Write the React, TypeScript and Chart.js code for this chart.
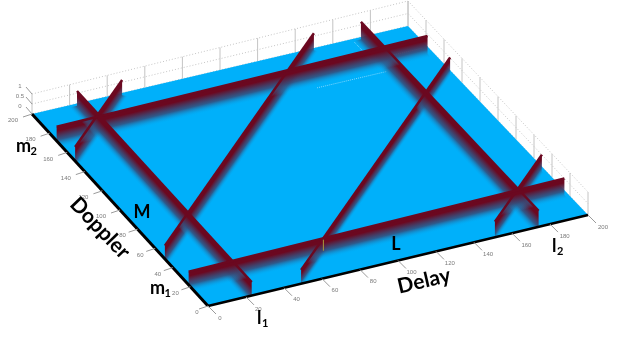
import React, { useEffect, useRef } from "react";
import { Chart, registerables } from "chart.js";

Chart.register(...registerables);

// Axis values
const delayTicks = [0, 20, 40, 60, 80, 100, 120, 140, 160, 180, 200];
const dopplerTicks = [0, 20, 40, 60, 80, 100, 120, 140, 160, 180, 200];
const heightTicks = [0, 0.5, 1];

// Ridges as [delay, doppler] end points
const ridgeHeight = 0.72;
const dopplerRidgeA = [[0, 172], [197, 172]];
const dopplerRidgeB = [[0, 22], [198, 22]];
const delayRidgeC = [[23, 198], [23, 0]];
const delayRidgeD = [[174, 198], [174, 0]];
const diagonalE1 = [[0, 151], [47, 198]];
const diagonalE2 = [[0, 49], [149, 198]];
const diagonalE3 = [[49, 0], [198, 149]];
const diagonalE4 = [[151, 0], [198, 47]];
// how far the lit slope of a ridge runs out on the floor: [delay, doppler]
const slopeDoppler = [0, -7];
const slopeDelay = [-4.5, 0];
const slopeDiagonal = [2.5, -2.5];
const ridgesBackToFront = [
  { ends: diagonalE2, slope: slopeDiagonal },
  { ends: diagonalE3, slope: slopeDiagonal },
  { ends: diagonalE1, slope: slopeDiagonal },
  { ends: diagonalE4, slope: slopeDiagonal },
  { ends: delayRidgeD, slope: slopeDelay },
  { ends: dopplerRidgeA, slope: slopeDoppler },
  { ends: delayRidgeC, slope: slopeDelay },
  { ends: dopplerRidgeB, slope: slopeDoppler },
];

const project = (d: number, m: number, z = 0) => {
  const u = d / 200;
  const v = m / 200;
  return {
    x: 208 + 380 * u - 176 * v - 4 * u * v,
    y: 306 - 91 * u - 192 * v + 3 * u * v - z * (18 + 5 * u + 2 * v),
  };
};

const BLUE = "#00b0fa";
const BLUE_CLEAR = "rgba(0,176,250,0)";
const SLATE = "rgba(55,75,120,0.85)";
const RED = "#6b0820";
const GRID = "#c4c4c4";
const TICK = "#9a9a9a";

function App() {
  const ref = useRef<HTMLCanvasElement | null>(null);
  useEffect(() => {
    const datasets: any[] = [];
    const stroke = (data: any[], borderColor: string, borderWidth: number, borderDash: number[] = []) =>
      datasets.push({ data, borderColor, borderWidth, borderDash, showLine: true, pointRadius: 0, fill: false, borderCapStyle: "butt" });

    // back walls
    for (const z of heightTicks) {
      stroke([project(0, 200, z), project(200, 200, z), project(200, 0, z)], GRID, 1, [1, 2]);
    }
    for (const d of delayTicks) stroke([project(d, 200), project(d, 200, 1)], GRID, 1);
    for (const m of dopplerTicks) stroke([project(200, m), project(200, m, 1)], GRID, 1);

    // floor
    datasets.push({
      data: [project(0, 0), project(200, 0), project(200, 200), project(0, 200)],
      showLine: true, pointRadius: 0, borderWidth: 0, fill: "shape", backgroundColor: BLUE,
    });

    // faint base lines at the far side
    stroke([project(135, 165), project(172, 165)], "#7fd8ff", 1, [1, 1]);
    stroke([project(178, 178), project(197, 178)], "#7fd8ff", 1, [1, 1]);
    stroke([project(170, 197), project(170, 178)], "#7fd8ff", 1, [1, 1]);

    // ridge faces
    for (const { ends, slope } of ridgesBackToFront) {
      const [a, b] = ends;
      const ca = project(a[0], a[1], ridgeHeight);
      const cb = project(b[0], b[1], ridgeHeight);
      const ba = project(a[0], a[1]);
      const bb = project(b[0], b[1]);
      const ea = project(a[0] + slope[0], Math.max(0, a[1] + slope[1]));
      const eb = project(Math.min(200, b[0] + slope[0]), Math.max(0, b[1] + slope[1]));
      datasets.push({
        data: [ca, cb, bb, eb, ea, ba],
        showLine: true, pointRadius: 0, borderWidth: 0, fill: "shape",
        backgroundColor: (c: any) => {
          const chart = c.chart;
          const sx = (v: number) => chart.scales.x?.getPixelForValue(v);
          const sy = (v: number) => chart.scales.y?.getPixelForValue(v);
          const x0 = sx(ca.x), y0 = sy(ca.y);
          if (!Number.isFinite(x0) || !Number.isFinite(y0)) return RED;
          const dx = sx(cb.x) - x0, dy = sy(cb.y) - y0;
          const px = sx(ea.x) - x0, py = sy(ea.y) - y0;
          const t = (px * dx + py * dy) / (dx * dx + dy * dy);
          const g = chart.ctx.createLinearGradient(x0, y0, x0 + px - t * dx, y0 + py - t * dy);
          g.addColorStop(0, RED);
          g.addColorStop(0.2, RED);
          g.addColorStop(0.6, SLATE);
          g.addColorStop(1, BLUE_CLEAR);
          return g;
        },
      });
    }

    // ridge crests
    for (const { ends } of ridgesBackToFront) {
      stroke(ends.map((p) => project(p[0], p[1], ridgeHeight)), RED, 2.5);
    }
    // small yellow seam where a diagonal meets the front ridge
    stroke([project(71, 22, 0.1), project(71, 22, 0.65)], "#a89a3c", 1);

    // axes
    stroke([project(0, 200), project(0, 0)], "#000000", 3);
    stroke([project(0, 0), project(200, 0)], "#000000", 2.5);
    for (const d of delayTicks) {
      const p = project(d, 0);
      stroke([p, { x: p.x + 8, y: p.y + 8 }], TICK, 1);
    }
    for (const m of dopplerTicks) {
      const p = project(0, m);
      stroke([p, { x: p.x - 9, y: p.y + 3 }], TICK, 1);
    }
    for (const z of heightTicks) {
      const p = project(0, 200, z);
      stroke([p, { x: p.x - 6, y: p.y - 7 }], TICK, 1);
    }
    datasets.forEach((ds, i) => (ds.order = datasets.length - i));

    const textPlugin = {
      id: "text3d",
      afterDatasetsDraw(chart: any) {
        const ctx = chart.ctx;
        const sx = (v: number) => chart.scales.x.getPixelForValue(v);
        const sy = (v: number) => chart.scales.y.getPixelForValue(v);
        ctx.save();
        ctx.textAlign = "center";
        ctx.textBaseline = "middle";
        ctx.fillStyle = "#7a7a7a";
        ctx.font = "6px 'Liberation Sans'";
        for (const d of delayTicks) {
          const p = project(d, 0);
          ctx.fillText(String(d), sx(p.x) + 12 + d * 0.015, sy(p.y) + 12);
        }
        for (const m of dopplerTicks) {
          const p = project(0, m);
          ctx.fillText(String(m), sx(p.x) - 11 - 4 * (String(m).length - 1), sy(p.y) + 6.5);
        }
        for (const z of heightTicks) {
          const p = project(0, 200, z);
          ctx.fillText(String(z), sx(p.x) - 12, sy(p.y) - 8);
        }
        ctx.fillStyle = "#000000";
        const label = (t: string, x: number, y: number, size: number, rot = 0) => {
          ctx.save();
          ctx.translate(x, y);
          ctx.rotate((rot * Math.PI) / 180);
          ctx.font = `bold ${size}px Lato`;
          ctx.fillText(t, 0, 0);
          ctx.restore();
        };
        label("Doppler", 100, 228, 21, 46);
        label("Delay", 424, 281, 21, -13);
        label("M", 142, 212, 18);
        label("L", 396, 244, 18);
        const sub = (t: string, s: string, x: number, y: number) => {
          ctx.textAlign = "left";
          label(t, x, y, 18);
          label(s, x + (t === "m" ? 14.5 : 5), y + 5, 11);
          ctx.textAlign = "center";
        };
        sub("m", "2", 16, 146);
        sub("m", "1", 150, 288);
        sub("l", "1", 257, 318);
        sub("l", "2", 552, 246);
        ctx.restore();
      },
    };

    const chart = new Chart(ref.current as HTMLCanvasElement, {
      type: "scatter",
      data: { datasets },
      options: {
        animation: false,
        responsive: false,
        layout: { padding: 0 },
        elements: { line: { tension: 0 } },
        plugins: { legend: { display: false }, tooltip: { enabled: false } },
        scales: {
          x: { type: "linear", min: 0, max: 624, display: false },
          y: { type: "linear", min: 0, max: 337, reverse: true, display: false },
        },
      },
      plugins: [textPlugin],
    });
    return () => chart.destroy();
  }, []);
  return (
    <div style={{ position: "fixed", left: 0, top: 0, width: 624, height: 337, background: "#fff" }}>
      <canvas ref={ref} width={624} height={337} style={{ display: "block", filter: "blur(0.5px)" }} />
    </div>
  );
}

export default App;
